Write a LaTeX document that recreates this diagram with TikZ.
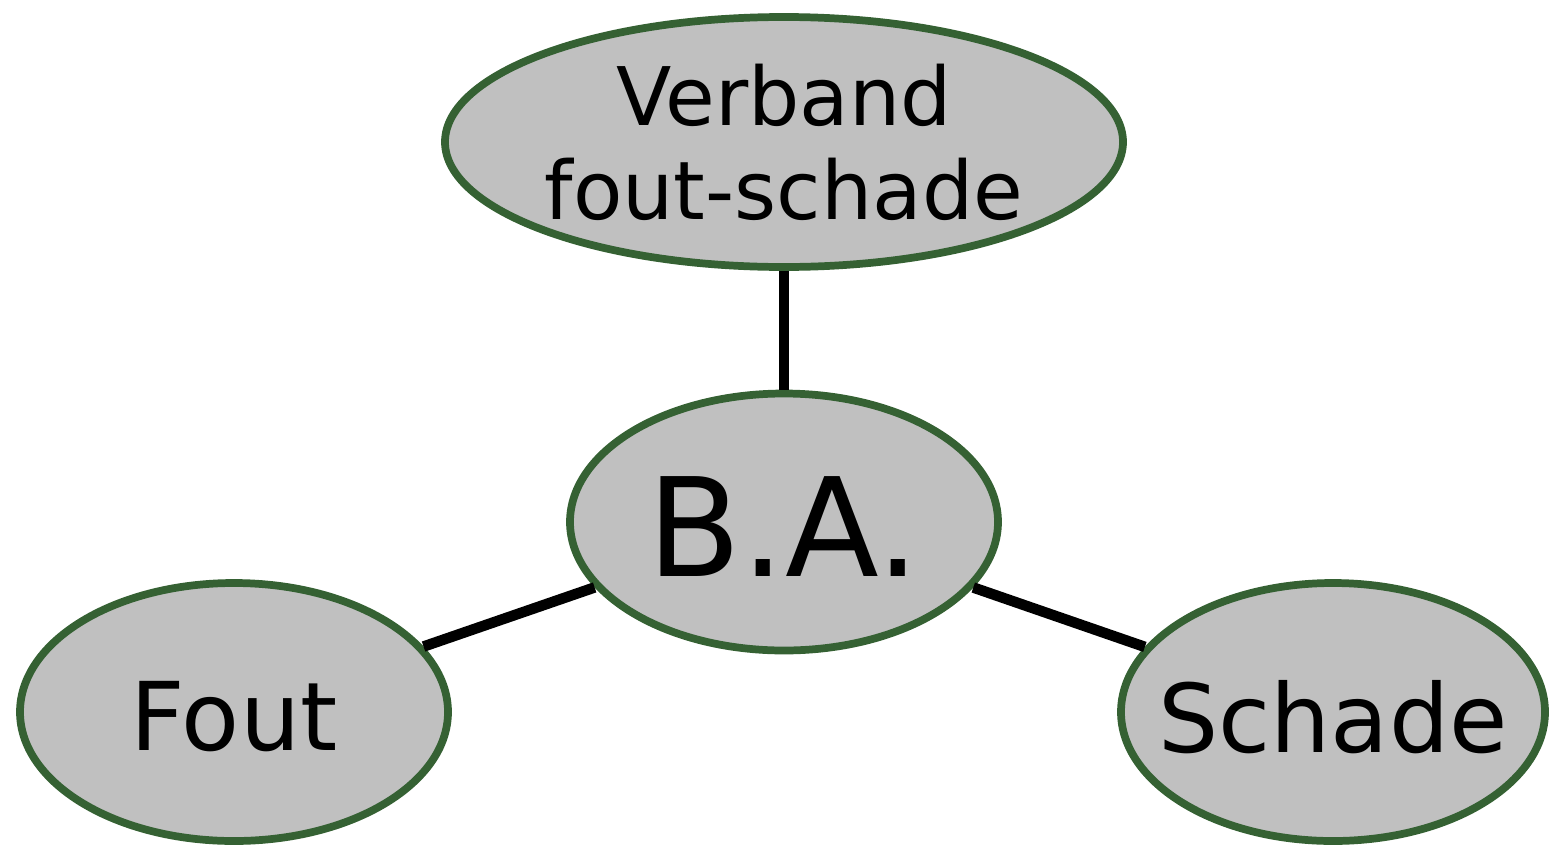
\documentclass[tikz,border=0pt]{standalone}
\usepackage{fontspec}
\setmainfont{DejaVu Sans}
\usetikzlibrary{shapes.geometric}
\definecolor{randgroen}{HTML}{356133}
\definecolor{vulgrijs}{HTML}{C0C0C0}
\tikzset{
  begrip/.style={ellipse,draw=randgroen,fill=vulgrijs,line width=4.4pt,inner sep=0pt,align=center},
  verbinding/.style={line width=6pt,black}
}
\newcommand{\omlaag}[1]{\raisebox{-0.1cm}[\height][\depth]{\makebox[3cm]{#1}}}

\begin{document}
\begin{tikzpicture}
\useasboundingbox (0,0) rectangle (31.06,-16.94);
\node[begrip,minimum width=13.56cm,minimum height=5cm,font=\fontsize{46}{53.5}\selectfont] (verband) at (15.68,-2.84) {Verband\\fout-schade};
\node[begrip,minimum width=8.56cm,minimum height=5.14cm,font=\fontsize{78}{90}\selectfont] (ba) at (15.68,-10.44) {\omlaag{B.A.}};
\node[begrip,minimum width=8.56cm,minimum height=5.16cm,font=\fontsize{54}{62}\selectfont] (fout) at (4.68,-14.24) {\omlaag{Fout}};
\node[begrip,minimum width=8.48cm,minimum height=5.16cm,font=\fontsize{54}{62}\selectfont] (schade) at (26.66,-14.24) {\omlaag{Schade}};
\draw[verbinding] (verband) -- (ba);
\draw[verbinding] (ba) -- (fout);
\draw[verbinding] (ba) -- (schade);
\end{tikzpicture}
\end{document}
